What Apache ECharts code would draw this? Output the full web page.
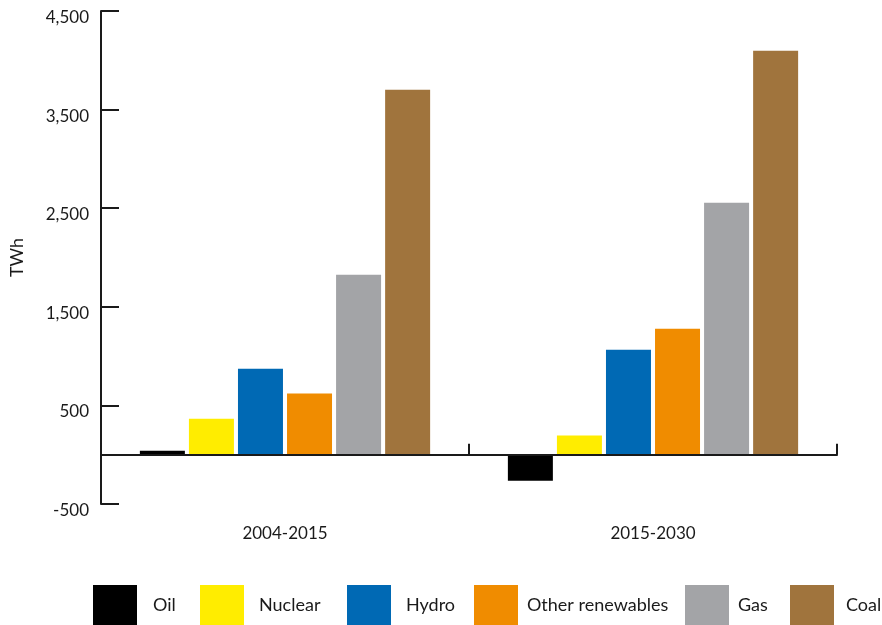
<!DOCTYPE html>
<html>
<head>
<meta charset="utf-8">
<script src="https://cdn.jsdelivr.net/npm/echarts@6/dist/echarts.min.js"></script>
<style>html,body{margin:0;padding:0;background:#fff}#c{width:882px;height:625px}</style>
</head>
<body>
<div id="c"></div>
<script>
var categories = ['2004-2015', '2015-2030'];
var seriesNames = ['Oil', 'Nuclear', 'Hydro', 'Other renewables', 'Gas', 'Coal'];
var oil = [40, -265];
var nuclear = [365, 195];
var hydro = [872, 1065];
var otherRenewables = [620, 1278];
var gas = [1826, 2556];
var coal = [3702, 4097];
var colors = ['#000000', '#FFED00', '#0069B4', '#F08C00', '#A3A4A7', '#A0743D'];
var legendLeft = [93, 200, 347, 474, 685, 790];
var legendPad = [11, 10, 10, 4, 4, 7];

var values = [oil, nuclear, hydro, otherRenewables, gas, coal];
var FONT = 'Lato';

var series = seriesNames.map(function (n, i) {
  return {
    name: n,
    type: 'bar',
    xAxisIndex: 0,
    data: values[i],
    barWidth: 45,
    barGap: '9%',
    itemStyle: { color: colors[i] },
    z: 1
  };
});

var legends = seriesNames.map(function (n, i) {
  return {
    data: [n],
    left: legendLeft[i],
    top: 585,
    padding: 0,
    itemWidth: 44,
    itemHeight: 40,
    icon: 'rect',
    selectedMode: false,
    textStyle: { fontFamily: FONT, fontSize: 18, color: '#1a1a1a', padding: [0, 0, 0, legendPad[i]] }
  };
});

var chart = echarts.init(document.getElementById('c'), null, { renderer: 'canvas' });
chart.setOption({
  animation: false,
  backgroundColor: '#ffffff',
  textStyle: { fontFamily: FONT },
  legend: legends,
  grid: { left: 101, right: 45, top: 11, bottom: 121, containLabel: false, outerBoundsMode: 'none' },
  xAxis: [
    {
      type: 'category',
      data: categories,
      axisLine: { onZero: true, lineStyle: { color: '#1a1a1a', width: 2 } },
      axisTick: { show: true, inside: true, length: 11, lineStyle: { color: '#1a1a1a', width: 2 } },
      axisLabel: { show: false },
      z: 5
    },
    {
      type: 'category',
      data: categories,
      position: 'bottom',
      axisLine: { show: false, onZero: false },
      axisTick: { show: false },
      axisLabel: { show: true, margin: 21, fontFamily: FONT, fontSize: 17, color: '#1a1a1a' }
    }
  ],
  yAxis: {
    type: 'value',
    min: -500,
    max: 4500,
    interval: 1000,
    name: 'TWh',
    nameLocation: 'middle',
    nameRotate: 90,
    nameGap: 75,
    nameTextStyle: { fontFamily: FONT, fontSize: 18, color: '#1a1a1a' },
    axisLine: { show: true, lineStyle: { color: '#1a1a1a', width: 2 } },
    axisTick: { show: true, inside: true, length: 18, lineStyle: { color: '#1a1a1a', width: 2 } },
    axisLabel: {
      margin: 12,
      fontFamily: FONT,
      fontSize: 17,
      color: '#1a1a1a',
      verticalAlign: 'top',
      padding: [-2, 0, 0, 0],
      formatter: function (v) { return v.toLocaleString('en-US'); }
    },
    splitLine: { show: false }
  },
  series: series
});
</script>
</body>
</html>
